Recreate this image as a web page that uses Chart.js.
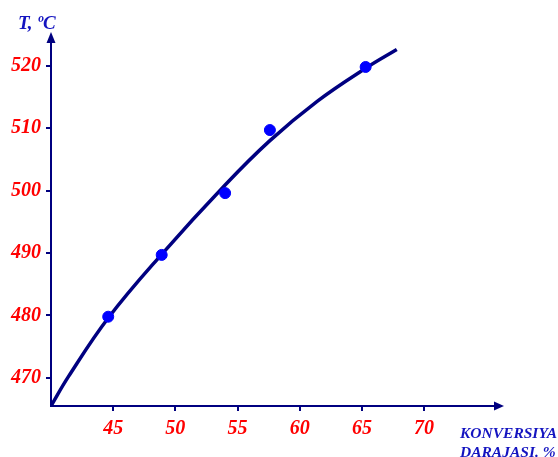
<!DOCTYPE html>
<html>
<head>
<meta charset="utf-8">
<script src="https://cdn.jsdelivr.net/npm/chart.js@4/dist/chart.umd.min.js"></script>
<style>
  html, body { margin: 0; padding: 0; background: #fff; }
  #wrap { width: 558px; height: 457px; position: relative; }
</style>
</head>
<body>
<div id="wrap"><canvas id="chart"></canvas></div>
<script>
// ── Data ────────────────────────────────────────────────────────────────────
const X_TICKS = [45, 50, 55, 60, 65, 70];
const Y_TICKS = [470, 480, 490, 500, 510, 520];

// measured points (conversion %, temperature °C)
const POINT_X = [44.6, 48.9, 54.0, 57.6, 65.3];
const POINT_Y = [479.8, 489.7, 499.6, 509.7, 519.8];

// fitted curve
const CURVE_X = [40.0, 41.4, 44.6, 48.9, 54.0, 57.6, 61.4, 65.3, 67.8];
const CURVE_Y = [465.5, 470.2, 479.6, 489.8, 500.9, 508.0, 514.3, 519.6, 522.6];

const X_TITLE = ['KONVERSIYA', 'DARAJASI. %'];
const Y_TITLE = 'T, ºC';

const NAVY = '#000080';
const BLUE = '#0000ff';
const RED = '#ff0000';
const TITLE_BLUE = '#1414c0';
const SERIF = '"Liberation Serif", "Times New Roman", serif';

// ── Arrowheads + axis titles ────────────────────────────────────────────────
const axisDecor = {
  id: 'axisDecor',
  afterDraw(chart) {
    const { ctx, chartArea: a } = chart;
    ctx.save();
    ctx.fillStyle = NAVY;
    // y arrow
    ctx.beginPath();
    ctx.moveTo(a.left, a.top - 10);
    ctx.lineTo(a.left - 4.5, a.top + 1);
    ctx.lineTo(a.left + 4.5, a.top + 1);
    ctx.closePath();
    ctx.fill();
    // x arrow
    ctx.beginPath();
    ctx.moveTo(a.right + 9, a.bottom);
    ctx.lineTo(a.right - 1, a.bottom - 4.5);
    ctx.lineTo(a.right - 1, a.bottom + 4.5);
    ctx.closePath();
    ctx.fill();

    ctx.fillStyle = TITLE_BLUE;
    ctx.textBaseline = 'alphabetic';
    ctx.textAlign = 'left';
    ctx.font = 'italic bold 19px ' + SERIF;
    ctx.fillText(Y_TITLE, 18, 28.5);
    ctx.font = 'italic bold 15.5px ' + SERIF;
    ctx.fillText(X_TITLE[0], 460, 438);
    ctx.fillText(X_TITLE[1], 460, 456.5);
    ctx.restore();
  }
};

new Chart(document.getElementById('chart'), {
  type: 'scatter',
  data: {
    datasets: [
      {
        type: 'line',
        label: 'curve',
        data: CURVE_X.map((x, i) => ({ x, y: CURVE_Y[i] })),
        borderColor: NAVY,
        borderWidth: 3.5,
        pointRadius: 0,
        tension: 0.4,
        fill: false,
        order: 2
      },
      {
        label: 'points',
        data: POINT_X.map((x, i) => ({ x, y: POINT_Y[i] })),
        backgroundColor: BLUE,
        borderColor: BLUE,
        pointRadius: 5.5,
        order: 1
      }
    ]
  },
  options: {
    responsive: true,
    maintainAspectRatio: false,
    animation: false,
    layout: { padding: { left: 0, top: 42, right: 63, bottom: 0 } },
    plugins: { legend: { display: false }, tooltip: { enabled: false } },
    scales: {
      x: {
        type: 'linear',
        min: 40,
        max: 75.7,
        afterBuildTicks: s => { s.ticks = X_TICKS.map(v => ({ value: v })); },
        afterFit: s => { s.height = 51; },
        border: { color: NAVY, width: 2 },
        grid: { drawOnChartArea: false, drawTicks: true, tickLength: 5, color: NAVY, lineWidth: 2 },
        ticks: {
          color: RED,
          padding: 6,
          maxRotation: 0,
          font: { family: SERIF, size: 20, style: 'italic', weight: 'bold' }
        }
      },
      y: {
        type: 'linear',
        min: 465.5,
        max: 523.8,
        afterBuildTicks: s => { s.ticks = Y_TICKS.map(v => ({ value: v })); },
        afterFit: s => { s.width = 51; },
        border: { color: NAVY, width: 2 },
        grid: { drawOnChartArea: false, drawTicks: true, tickLength: 5, color: NAVY, lineWidth: 2 },
        ticks: {
          color: RED,
          padding: 5,
          font: { family: SERIF, size: 20, style: 'italic', weight: 'bold' }
        }
      }
    }
  },
  plugins: [axisDecor]
});
</script>
</body>
</html>
